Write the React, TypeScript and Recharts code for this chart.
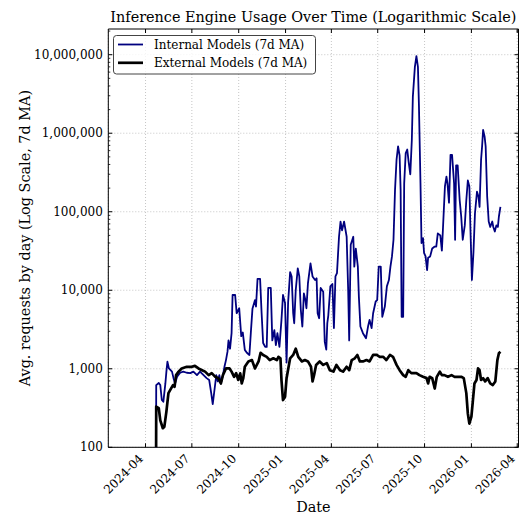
import { CartesianGrid, Legend, Line, LineChart, ReferenceArea, XAxis, YAxis } from "recharts"

// internal models, 7-day moving average (0 = no traffic yet)
const internalDates = [
  "2024-04-21", "2024-04-22", "2024-04-27", "2024-04-30", "2024-05-03", "2024-05-06", "2024-05-10", "2024-05-12",
  "2024-05-14", "2024-05-17", "2024-05-23", "2024-05-26", "2024-05-29", "2024-06-02", "2024-06-08", "2024-06-14",
  "2024-06-21", "2024-06-28", "2024-07-04", "2024-07-11", "2024-07-17", "2024-07-24", "2024-07-30", "2024-08-04",
  "2024-08-08", "2024-08-11", "2024-08-14", "2024-08-18", "2024-08-21", "2024-08-24", "2024-08-27", "2024-08-31",
  "2024-09-03", "2024-09-06", "2024-09-09", "2024-09-11", "2024-09-14", "2024-09-17", "2024-09-19", "2024-09-24",
  "2024-09-27", "2024-10-02", "2024-10-06", "2024-10-09", "2024-10-13", "2024-10-17", "2024-10-22", "2024-10-25",
  "2024-10-28", "2024-11-02", "2024-11-04", "2024-11-07", "2024-11-12", "2024-11-15", "2024-11-18", "2024-11-22",
  "2024-11-25", "2024-11-28", "2024-12-03", "2024-12-06", "2024-12-10", "2024-12-13", "2024-12-16", "2024-12-20",
  "2024-12-24", "2024-12-27", "2024-12-31", "2025-01-03", "2025-01-06", "2025-01-10", "2025-01-13", "2025-01-16",
  "2025-01-18", "2025-01-21", "2025-01-25", "2025-01-28", "2025-01-31", "2025-02-03", "2025-02-06", "2025-02-09",
  "2025-02-11", "2025-02-14", "2025-02-19", "2025-02-23", "2025-02-28", "2025-03-03", "2025-03-05", "2025-03-08",
  "2025-03-11", "2025-03-16", "2025-03-19", "2025-03-22", "2025-03-24", "2025-03-26", "2025-03-30", "2025-04-03",
  "2025-04-06", "2025-04-09", "2025-04-12", "2025-04-16", "2025-04-19", "2025-04-22", "2025-04-26", "2025-05-01",
  "2025-05-04", "2025-05-06", "2025-05-09", "2025-05-14", "2025-05-16", "2025-05-19", "2025-05-23", "2025-05-25",
  "2025-05-28", "2025-06-02", "2025-06-08", "2025-06-12", "2025-06-15", "2025-06-19", "2025-06-22", "2025-06-27",
  "2025-06-30", "2025-07-03", "2025-07-07", "2025-07-10", "2025-07-15", "2025-07-19", "2025-07-23", "2025-07-26",
  "2025-07-29", "2025-08-01", "2025-08-04", "2025-08-07", "2025-08-10", "2025-08-13", "2025-08-15", "2025-08-17",
  "2025-08-20", "2025-08-22", "2025-08-25", "2025-08-28", "2025-08-31", "2025-09-03", "2025-09-06", "2025-09-08",
  "2025-09-12", "2025-09-15", "2025-09-18", "2025-09-20", "2025-09-23", "2025-09-25", "2025-09-28", "2025-09-30",
  "2025-10-03", "2025-10-06", "2025-10-08", "2025-10-12", "2025-10-16", "2025-10-21", "2025-10-24", "2025-10-27",
  "2025-11-01", "2025-11-04", "2025-11-06", "2025-11-10", "2025-11-13", "2025-11-15", "2025-11-18", "2025-11-21",
  "2025-11-24", "2025-11-28", "2025-11-30", "2025-12-02", "2025-12-05", "2025-12-09", "2025-12-12", "2025-12-15",
  "2025-12-19", "2025-12-22", "2025-12-25", "2025-12-28", "2025-12-30", "2026-01-02", "2026-01-05", "2026-01-08",
  "2026-01-12", "2026-01-15", "2026-01-17", "2026-01-20", "2026-01-22", "2026-01-24", "2026-01-27", "2026-01-29",
  "2026-02-01", "2026-02-04", "2026-02-07", "2026-02-11", "2026-02-13", "2026-02-16", "2026-02-19", "2026-02-22",
  "2026-02-24", "2026-02-27",
]
const internalValues = [
  0, 620, 660, 620, 400, 380, 650, 920,
  1230, 1010, 920, 760, 650, 790, 890, 920,
  890, 880, 920, 830, 920, 830, 760, 720,
  490, 355, 510, 830, 690, 830, 650, 830,
  1060, 1290, 1650, 2300, 1800, 2840, 8700, 8700,
  5100, 5900, 2600, 2900, 1740, 1600, 1500, 3000,
  5800, 7500, 6200, 14000, 14000, 5100, 2130, 1900,
  1900, 10700, 10700, 2300, 3100, 2000, 2850, 1900,
  4200, 8700, 6900, 1200, 6900, 17000, 15000, 5100,
  3800, 10000, 19000, 15000, 5600, 3450, 9100, 7500,
  5900, 12300, 22000, 15000, 13500, 14200, 5100, 4400,
  10700, 9600, 2200, 1750, 3800, 4800, 11200, 12000,
  3300, 15000, 16500, 48000, 75000, 58000, 75000, 48000,
  10000, 2300, 38000, 48000, 20000, 34000, 20000, 8300,
  3450, 2840, 2450, 3450, 4200, 3300, 5100, 7200,
  7500, 20000, 20000, 4600, 6200, 11200, 13500, 20000,
  27000, 44000, 190000, 460000, 680000, 520000, 190000, 4600,
  4600, 230000, 560000, 620000, 420000, 300000, 820000, 2900000,
  7000000, 9600000, 7000000, 2200000, 230000, 40000, 46000, 30000,
  27000, 18000, 26000, 27000, 34000, 36000, 36000, 53000,
  50000, 32000, 58000, 210000, 280000, 230000, 130000, 530000,
  530000, 230000, 44000, 390000, 390000, 140000, 87000, 44000,
  67000, 140000, 250000, 210000, 64000, 13500, 30000, 95000,
  180000, 155000, 115000, 460000, 680000, 1100000, 900000, 680000,
  155000, 75000, 64000, 75000, 64000, 56000, 67000, 64000,
  87000, 115000,
]

// external models, 7-day moving average
const externalDates = [
  "2024-04-21", "2024-04-22", "2024-04-27", "2024-04-30", "2024-05-05", "2024-05-08", "2024-05-12", "2024-05-16",
  "2024-05-21", "2024-05-25", "2024-05-28", "2024-05-31", "2024-06-05", "2024-06-11", "2024-06-21", "2024-07-01",
  "2024-07-07", "2024-07-14", "2024-07-21", "2024-07-27", "2024-08-03", "2024-08-09", "2024-08-16", "2024-08-22",
  "2024-08-27", "2024-08-31", "2024-09-06", "2024-09-13", "2024-09-17", "2024-09-22", "2024-09-26", "2024-09-30",
  "2024-10-04", "2024-10-07", "2024-10-10", "2024-10-13", "2024-10-20", "2024-10-27", "2024-11-02", "2024-11-09",
  "2024-11-13", "2024-11-18", "2024-11-25", "2024-12-01", "2024-12-08", "2024-12-15", "2024-12-18", "2024-12-22",
  "2024-12-24", "2024-12-27", "2024-12-31", "2025-01-03", "2025-01-10", "2025-01-16", "2025-01-21", "2025-01-26",
  "2025-02-02", "2025-02-08", "2025-02-14", "2025-02-20", "2025-02-23", "2025-02-26", "2025-03-02", "2025-03-09",
  "2025-03-16", "2025-03-23", "2025-03-29", "2025-04-05", "2025-04-11", "2025-04-18", "2025-04-24", "2025-05-01",
  "2025-05-06", "2025-05-11", "2025-05-17", "2025-05-22", "2025-05-27", "2025-06-02", "2025-06-09", "2025-06-15",
  "2025-06-22", "2025-06-29", "2025-07-05", "2025-07-12", "2025-07-18", "2025-07-25", "2025-07-31", "2025-08-07",
  "2025-08-13", "2025-08-20", "2025-08-25", "2025-08-30", "2025-09-05", "2025-09-15", "2025-09-21", "2025-09-28",
  "2025-10-05", "2025-10-08", "2025-10-11", "2025-10-16", "2025-10-21", "2025-10-25", "2025-10-31", "2025-11-04",
  "2025-11-09", "2025-11-16", "2025-11-23", "2025-11-29", "2025-12-05", "2025-12-12", "2025-12-17", "2025-12-22",
  "2025-12-25", "2025-12-28", "2026-01-01", "2026-01-04", "2026-01-07", "2026-01-11", "2026-01-14", "2026-01-17",
  "2026-01-20", "2026-01-24", "2026-01-28", "2026-02-02", "2026-02-07", "2026-02-12", "2026-02-17", "2026-02-21",
  "2026-02-24", "2026-02-27",
]
const externalValues = [
  0, 330, 315, 220, 175, 183, 285, 490,
  560, 620, 590, 830, 920, 1010, 1060, 1060,
  1090, 1010, 960, 920, 830, 880, 790, 760,
  650, 830, 1010, 1010, 920, 790, 880, 720,
  875, 650, 760, 1060, 1240, 1290, 1010, 1240,
  1600, 1500, 1420, 1290, 1360, 1290, 1420, 1360,
  720, 400, 440, 760, 1360, 1500, 1800, 1420,
  1240, 1290, 1240, 1060, 690, 830, 1120, 1240,
  1120, 1180, 960, 920, 1120, 960, 920, 1060,
  960, 1290, 1360, 1500, 1240, 1240, 1290, 1240,
  1500, 1500, 1420, 1420, 1290, 1500, 1420, 1120,
  960, 830, 790, 960, 880, 880, 830, 790,
  760, 650, 790, 760, 560, 790, 920, 830,
  830, 790, 830, 790, 790, 790, 760, 490,
  270, 200, 245, 400, 650, 720, 1010, 960,
  720, 760, 690, 760, 650, 620, 690, 1290,
  1580, 1650,
]

const xTickDates = [
  "2024-04-01", "2024-07-01", "2024-10-01", "2025-01-01", "2025-04-01",
  "2025-07-01", "2025-10-01", "2026-01-01", "2026-04-01",
]
const yMajorTicks = [100, 1000, 10000, 100000, 1000000, 10000000]

const seriesNames = ["Internal Models (7d MA)", "External Models (7d MA)"]
const seriesColors = ["#00007f", "#000000"]
const seriesWidths = [1.8, 2.7]

const DAY = 86400000
const FONT = "DejaVu Serif"
const PLOT_LEFT = 108.3
const PLOT_RIGHT = 518.5
const PLOT_TOP = 29
const PLOT_BOTTOM = 447.3

// log axis can't place 0, so push it below the axis like matplotlib's clip
const toRows = (dates: string[], values: number[]) =>
  dates.map((d, i) => ({ t: Date.parse(d), v: values[i] > 0 ? values[i] : 1 }))

const internalData = toRows(internalDates, internalValues)
const externalData = toRows(externalDates, externalValues)

const xTicks = xTickDates.map((d) => Date.parse(d))
const xDomain = [Date.parse("2024-04-01") - 73.1 * DAY, Date.parse("2026-04-01") + 2.5 * DAY]
const yDomain = [100, 21250000]

const yMinorTicks: number[] = []
yMajorTicks.forEach((m) => {
  for (let k = 2; k < 10; k++) if (m * k < yDomain[1]) yMinorTicks.push(m * k)
})
const yTicks = [...yMajorTicks, ...yMinorTicks].sort((a, b) => a - b)

function XTick({ x, payload }: any) {
  const label = new Date(payload.value).toISOString().slice(0, 7)
  return (
    <g>
      <line x1={x} x2={x} y1={PLOT_BOTTOM} y2={PLOT_BOTTOM - 4} stroke="#000" />
      <line x1={x} x2={x} y1={PLOT_TOP} y2={PLOT_TOP + 4} stroke="#000" />
      <text
        x={x - 1.5}
        y={PLOT_BOTTOM + 12}
        transform={`rotate(-45 ${x - 1.5} ${PLOT_BOTTOM + 12})`}
        textAnchor="end"
        fontFamily={FONT}
        fontSize={12}
        fill="#000"
      >
        {label}
      </text>
    </g>
  )
}

function YTick({ y, payload }: any) {
  const major = yMajorTicks.includes(payload.value)
  const len = major ? 4 : 2
  return (
    <g>
      <line x1={PLOT_LEFT} x2={PLOT_LEFT + len} y1={y} y2={y} stroke="#000" strokeWidth={major ? 1 : 0.8} />
      <line x1={PLOT_RIGHT - len} x2={PLOT_RIGHT} y1={y} y2={y} stroke="#000" strokeWidth={major ? 1 : 0.8} />
      {major && (
        <text
          x={PLOT_LEFT - 5.5}
          y={y}
          textAnchor="end"
          dominantBaseline="central"
          fontFamily={FONT}
          fontSize={12}
          fill="#000"
        >
          {payload.value.toLocaleString("en-US")}
        </text>
      )}
    </g>
  )
}

function LegendBox() {
  return (
    <svg width={204} height={40} style={{ display: "block" }}>
      <rect x={0.5} y={0.5} width={202} height={38.5} rx={3} fill="rgba(255,255,255,0.8)" stroke="#444" />
      {seriesNames.map((name, i) => (
        <g key={name}>
          <line x1={5} x2={30} y1={9.5 + i * 18.3} y2={9.5 + i * 18.3} stroke={seriesColors[i]} strokeWidth={seriesWidths[i]} />
          <text x={41} y={9.5 + i * 18.3} dominantBaseline="central" fontFamily={FONT} fontSize={12} fill="#000">
            {name}
          </text>
        </g>
      ))}
    </svg>
  )
}

export default function App() {
  return (
    <div style={{ position: "absolute", left: 0, top: 0, width: 525, height: 516, background: "#fff" }}>
      <LineChart width={525} height={516} margin={{ top: PLOT_TOP, right: 525 - PLOT_RIGHT, bottom: 0, left: 0 }}>
        <CartesianGrid horizontalValues={yMajorTicks} stroke="#b8b8b8" strokeDasharray="1 2" strokeWidth={0.8} />
        <XAxis
          dataKey="t"
          type="number"
          domain={xDomain}
          allowDataOverflow
          ticks={xTicks}
          interval={0}
          height={516 - PLOT_BOTTOM}
          tickSize={0}
          tickMargin={0}
          axisLine={false}
          tickLine={false}
          tick={<XTick />}
        />
        <YAxis
          dataKey="v"
          scale="log"
          domain={yDomain}
          allowDataOverflow
          ticks={yTicks}
          interval={0}
          width={PLOT_LEFT}
          tickSize={0}
          tickMargin={0}
          axisLine={false}
          tickLine={false}
          tick={<YTick />}
        />
        <Line
          data={internalData}
          dataKey="v"
          name={seriesNames[0]}
          stroke={seriesColors[0]}
          strokeWidth={seriesWidths[0]}
          strokeLinejoin="round"
          dot={false}
          isAnimationActive={false}
        />
        <Line
          data={externalData}
          dataKey="v"
          name={seriesNames[1]}
          stroke={seriesColors[1]}
          strokeWidth={seriesWidths[1]}
          strokeLinejoin="round"
          dot={false}
          isAnimationActive={false}
        />
        <ReferenceArea
          x1={xDomain[0]}
          x2={xDomain[1]}
          y1={yDomain[0]}
          y2={yDomain[1]}
          fill="none"
          stroke="#000"
          strokeWidth={1}
          ifOverflow="visible"
        />
        <Legend
          layout="vertical"
          align="center"
          verticalAlign="middle"
          wrapperStyle={{ left: 113, top: 35, width: 204, height: 40 }}
          content={() => <LegendBox />}
        />
        <text x={(PLOT_LEFT + PLOT_RIGHT) / 2} y={22} textAnchor="middle" fontFamily={FONT} fontSize={14.4} fill="#000">
          Inference Engine Usage Over Time (Logarithmic Scale)
        </text>
        <text x={(PLOT_LEFT + PLOT_RIGHT) / 2} y={511.5} textAnchor="middle" fontFamily={FONT} fontSize={14.4} fill="#000">
          Date
        </text>
        <text
          x={30}
          y={(PLOT_TOP + PLOT_BOTTOM) / 2}
          transform={`rotate(-90 30 ${(PLOT_TOP + PLOT_BOTTOM) / 2})`}
          textAnchor="middle"
          fontFamily={FONT}
          fontSize={14.4}
          fill="#000"
        >
          Avg. requests by day (Log Scale, 7d MA)
        </text>
      </LineChart>
    </div>
  )
}
